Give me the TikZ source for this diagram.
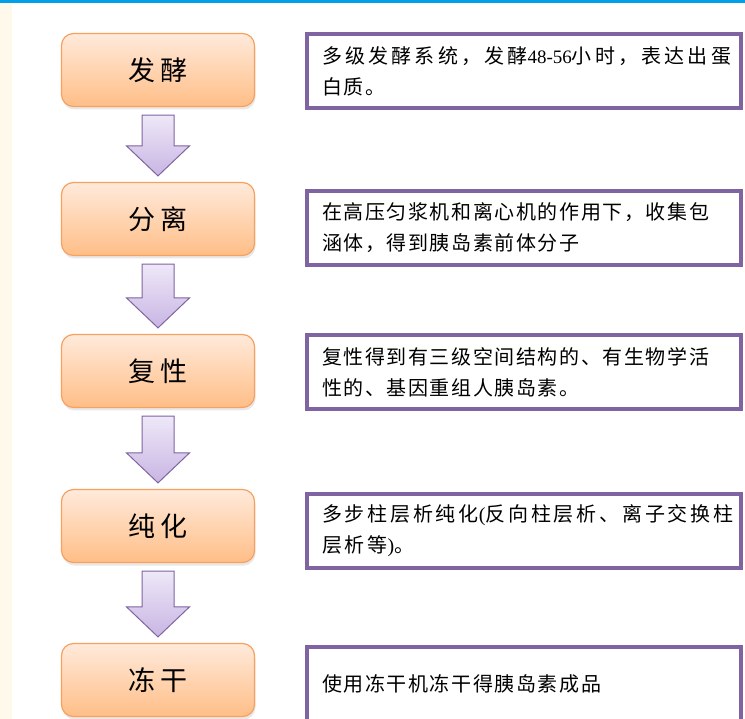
\documentclass[tikz,border=0pt]{standalone}
\usepackage{fontspec}
\setmainfont{Liberation Serif}
\newfontfamily\cjk{Noto Sans CJK SC}
\newfontfamily\cjksp[LetterSpace=8]{Noto Sans CJK SC}
\newfontfamily\cjkwide[LetterSpace=16]{Noto Sans CJK SC}
\newfontfamily\cjkwider[LetterSpace=14]{Noto Sans CJK SC}
\usetikzlibrary{calc,shadows}
\definecolor{topblue}{HTML}{00A0E9}
\definecolor{cream}{HTML}{FFF9EC}
\definecolor{orangeTop}{HTML}{FFEADB}
\definecolor{orangeBot}{HTML}{FFBE87}
\definecolor{orangeLine}{HTML}{F8A05E}
\definecolor{purpleLine}{HTML}{8064A2}
\definecolor{arrowTop}{HTML}{EEE8F8}
\definecolor{arrowBot}{HTML}{C8B5E3}
\tikzset{
  stage/.style={rounded corners=12pt, draw=orangeLine, line width=1.2pt,
    top color=orangeTop, bottom color=orangeBot,
    minimum width=193, minimum height=73, inner sep=0pt,
    font=\fontsize{27}{30}\selectfont\cjk,
    drop shadow={opacity=0.18, shadow xshift=1pt, shadow yshift=-3pt}},
  desc/.style={draw=purpleLine, line width=4pt, fill=white,
    minimum width=434, minimum height=74, text width=404, inner xsep=15pt,
    inner ysep=0pt, align=left,
    font=\fontsize{20}{31}\selectfont\cjksp},
  blockarrow/.style={draw=purpleLine, line width=1pt, line join=miter,
    top color=arrowTop, bottom color=arrowBot}
}
\newcommand\dnarrow[2]{%
  \path[blockarrow] let \p1=($(#1.south)+(0,8)$), \p2=($(#2.north)+(0,-6)$) in
  (\x1-16pt,\y1) -- (\x1+16pt,\y1) -- (\x1+16pt,\y2+30pt) -- (\x1+31.5pt,\y2+30pt)
  -- (\x1,\y2) -- (\x1-31.5pt,\y2+30pt) -- (\x1-16pt,\y2+30pt) -- cycle;}
\begin{document}
\begin{tikzpicture}[x=1pt,y=-1pt]
\useasboundingbox (0,0) rectangle (745,719);
\fill[white] (0,0) rectangle (745,719);
\fill[cream] (0,0) rectangle (12,719);
\fill[topblue] (0,0) rectangle (745,3);

\node[stage] (s1) at (158,70) {发\hspace{6pt}酵};
\node[stage] (s2) at (158,219) {分\hspace{6pt}离};
\node[stage] (s3) at (158,371) {复\hspace{6pt}性};
\node[stage] (s4) at (158,526) {纯\hspace{6pt}化};
\node[stage] (s5) at (158,680) {冻\hspace{6pt}干};

\dnarrow{s1}{s2}
\dnarrow{s2}{s3}
\dnarrow{s3}{s4}
\dnarrow{s4}{s5}

\node[desc, font=\fontsize{20}{31}\selectfont\cjkwide] (d1) at (524,71)
  {\mbox{多级发酵系统，发酵{\fontsize{19}{31}\selectfont\rmfamily 48-56}小时，表达出蛋}\\{\cjksp 白质。}};
\node[desc] (d2) at (524,228) {\mbox{在高压匀浆机和离心机的作用下，收集包}\\涵体，得到胰岛素前体分子};
\node[desc] (d3) at (524,372) {\mbox{复性得到有三级空间结构的、有生物学活}\\性的、基因重组人胰岛素。};
\node[desc, font=\fontsize{20}{31}\selectfont\cjkwider] (d4) at (524,531)
  {\mbox{多步柱层析纯化{\rmfamily (}反向柱层析、离子交换柱}\\层析等{\rmfamily )}。};
\node[desc] (d5) at (524,684) {使用冻干机冻干得胰岛素成品};
\end{tikzpicture}
\end{document}
